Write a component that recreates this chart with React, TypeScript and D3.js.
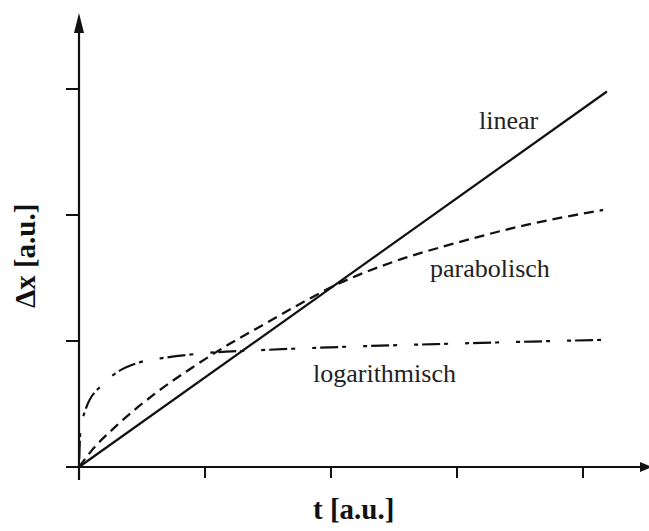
import React from "react";
import * as d3 from "d3";

// Series, read as (t, Δx) pairs in axis units (one tick = 1 unit)
const linearT = [0, 4.19];
const linearX = [0, 2.98];

const parabolicT = [0, 0.1, 0.3, 0.6, 0.9, 1.2, 1.5, 1.8, 2.05, 2.5, 3.0, 3.5, 4.16];
const parabolicX = [0, 0.13, 0.33, 0.58, 0.79, 0.98, 1.15, 1.32, 1.45, 1.63, 1.78, 1.91, 2.04];

const logT = [0, 0.01, 0.05, 0.18, 0.3, 0.48, 0.7, 0.96, 1.5, 2.0, 3.0, 4.19];
const logX = [0, 0.27, 0.45, 0.65, 0.75, 0.83, 0.87, 0.9, 0.93, 0.95, 0.98, 1.01];

const xTicks = [1, 2, 3, 4];
const yTicks = [1, 2, 3];

const seriesLabels = ["linear", "parabolisch", "logarithmisch"];
const xTitle = "t [a.u.]";
const yTitle = "Δx [a.u.]";

const W = 649;
const H = 531;

export default function App() {
  const x = d3.scaleLinear().domain([0, 1]).range([79, 205]);
  const y = d3.scaleLinear().domain([0, 1]).range([467, 341]);

  const line = d3
    .line<[number, number]>()
    .x((d) => x(d[0]))
    .y((d) => y(d[1]))
    .curve(d3.curveMonotoneX);

  const zip = (a: number[], b: number[]) => a.map((v, i) => [v, b[i]] as [number, number]);

  const ink = "#111";
  const serif = "'Liberation Serif', 'Times New Roman', serif";

  const x0 = x(0);
  const y0 = y(0);

  return (
    <svg
      width={W}
      height={H}
      viewBox={`0 0 ${W} ${H}`}
      style={{ position: "absolute", left: 0, top: 0, background: "#fff" }}
    >
      <rect width={W} height={H} fill="#fff" />

      {/* axes with arrowheads */}
      <line x1={x0} y1={480} x2={x0} y2={28} stroke={ink} strokeWidth={2.2} />
      <path d={`M${x0},13 L${x0 - 5},33 L${x0 + 5},33 Z`} fill={ink} />
      <line x1={66} y1={y0} x2={640} y2={y0} stroke={ink} strokeWidth={2.2} />
      <path d={`M${652},${y0} L${640},${y0 - 5} L${640},${y0 + 5} Z`} fill={ink} />

      {xTicks.map((t) => (
        <line key={"xt" + t} x1={x(t)} x2={x(t)} y1={y0} y2={y0 + 11} stroke={ink} strokeWidth={2} />
      ))}
      {yTicks.map((t) => (
        <line key={"yt" + t} x1={x0 - 13} x2={x0} y1={y(t)} y2={y(t)} stroke={ink} strokeWidth={2} />
      ))}

      {/* curves */}
      <path d={line(zip(linearT, linearX)) || ""} fill="none" stroke={ink} strokeWidth={2.2} />
      <path
        d={line(zip(parabolicT, parabolicX)) || ""}
        fill="none"
        stroke={ink}
        strokeWidth={2.3}
        strokeDasharray="10,6"
      />
      <path
        d={line(zip(logT, logX)) || ""}
        fill="none"
        stroke={ink}
        strokeWidth={2.2}
        strokeDasharray="4,4,18,4,4,17"
      />

      {/* curve labels */}
      <g fontFamily={serif} fontSize={26} fill="#222">
        <text x={479} y={129}>{seriesLabels[0]}</text>
        <text x={430} y={277}>{seriesLabels[1]}</text>
        <text x={313} y={382}>{seriesLabels[2]}</text>
      </g>

      {/* axis titles */}
      <g fontFamily={serif} fontSize={29} fontWeight="bold" fill="#111">
        <text x={313} y={519}>{xTitle}</text>
        <text transform="translate(35,308) rotate(-90)">{yTitle}</text>
      </g>
    </svg>
  );
}
